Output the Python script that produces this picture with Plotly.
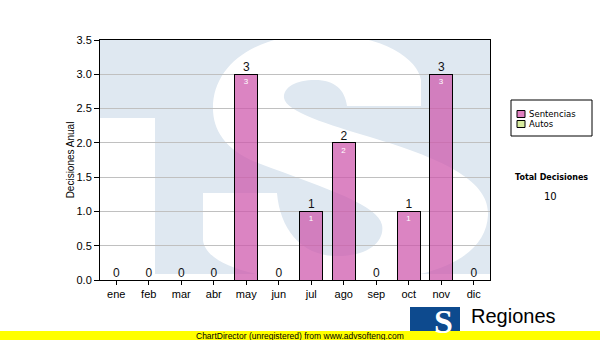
import plotly.graph_objects as go

# ---- data ----
months = ["ene", "feb", "mar", "abr", "may", "jun", "jul", "ago", "sep", "oct", "nov", "dic"]
sentencias = [0, 0, 0, 0, 3, 0, 1, 2, 0, 1, 3, 0]
autos = [0, 0, 0, 0, 0, 0, 0, 0, 0, 0, 0, 0]
series_names = ["Sentencias", "Autos"]
y_title = "Decisiones Anual"
total_label = "Total Decisiones"
totals = [s + a for s, a in zip(sentencias, autos)]
grand_total = sum(totals)

W, H = 600, 340
L, R, T, B = 100, 110, 40, 60
PW, PH = W - L - R, H - T - B

def P(px, py):
    return ((px - L) / PW, (H - B - py) / PH)

def path(cmds):
    out = []
    for c in cmds:
        op, pts = c[0], c[1:]
        s = op
        for (px, py) in pts:
            x, y = P(px, py)
            s += " %.4f,%.4f" % (x, y)
        out.append(s)
    return " ".join(out) + " Z"

PINK = "rgba(205,85,170,0.72)"
WM_BLUE = "#dfe8f1"

fig = go.Figure()
fig.add_trace(go.Bar(
    x=months, y=sentencias, name=series_names[0], showlegend=False,
    marker=dict(color=PINK, line=dict(color="black", width=1)),
    width=0.72,
    text=[str(v) if v > 0 else "" for v in sentencias],
    textposition="inside", insidetextanchor="end",
    textfont=dict(color="white", size=8, family="Liberation Sans"),
    cliponaxis=False,
))
fig.add_trace(go.Bar(
    x=months, y=autos, name=series_names[1], showlegend=False,
    marker=dict(color="#d8eca0", line=dict(color="black", width=0)),
    width=0.72,
))
fig.add_trace(go.Scatter(
    x=months, y=totals, mode="text", text=[str(v) for v in totals],
    textposition="top center", showlegend=False, cliponaxis=False,
    textfont=dict(size=12, color="#111", family="Liberation Sans"),
    hoverinfo="skip",
))

shapes = []
# watermark: blue T + square
shapes.append(dict(type="path", xref="paper", yref="paper", layer="below",
                   path=path([("M", (100, 40)), ("L", (490, 40)), ("L", (490, 274)),
                              ("L", (155, 274)), ("L", (155, 118)), ("L", (100, 118))]),
                   fillcolor=WM_BLUE, line=dict(width=0)))
# white S
s_cmds = [
    ("M", (421, 106)),
    ("L", (347, 106)),
    ("C", (345, 90), (335, 80), (315, 80)),
    ("C", (295, 80), (283, 88), (284, 98)),
    ("C", (286, 112), (330, 125), (370, 137)),
    ("C", (440, 158), (490, 180), (488, 215)),
    ("C", (486, 255), (440, 282), (340, 282)),
    ("C", (260, 282), (205, 265), (203, 240)),
    ("L", (203, 193)),
    ("L", (277, 193)),
    ("C", (280, 228), (300, 255), (335, 256)),
    ("C", (370, 257), (385, 240), (382, 225)),
    ("C", (378, 205), (330, 190), (258, 163)),
    ("C", (225, 150), (213, 130), (213, 108)),
    ("C", (213, 65), (255, 34), (320, 34)),
    ("C", (385, 34), (418, 60), (421, 80)),
]
shapes.append(dict(type="path", xref="paper", yref="paper", layer="below",
                   path=path(s_cmds), fillcolor="white", line=dict(width=0)))
# clean strip above plot (S top overflow)
x0, y0 = P(150, 0); x1, y1 = P(495, 39.5)
shapes.append(dict(type="rect", xref="paper", yref="paper", layer="below",
                   x0=x0, y0=y0, x1=x1, y1=y1, fillcolor="white", line=dict(width=0)))

# legend box (manual)
def rect(px0, py0, px1, py1, fill, lc="black", lw=1, layer="above"):
    a0, b0 = P(px0, py0); a1, b1 = P(px1, py1)
    return dict(type="rect", xref="paper", yref="paper", x0=a0, y0=b0, x1=a1, y1=b1,
                fillcolor=fill, line=dict(color=lc, width=lw), layer=layer)

shapes.append(rect(511, 100, 592, 136, "white"))
shapes.append(rect(517, 110.5, 525, 117.5, "#e080c0"))
shapes.append(rect(517, 120.5, 525, 127.5, "#d8eca0"))

# bottom logo
shapes.append(rect(410, 307, 460, 332, "#0d4a8e", lw=0))
# yellow band
shapes.append(rect(0, 331, 600, 340, "#ffff00", lw=0))

annotations = []
def ann(text, px, py, size, family="Liberation Sans", color="black", xanchor="center", bold=False):
    x, y = P(px, py)
    annotations.append(dict(text=("<b>%s</b>" % text) if bold else text, x=x, y=y,
                            xref="paper", yref="paper", showarrow=False,
                            xanchor=xanchor, yanchor="middle",
                            font=dict(size=size, family=family, color=color)))

ann(series_names[0], 527, 114, 8.5, family="DejaVu Sans", xanchor="left")
ann(series_names[1], 527, 124, 8.5, family="DejaVu Sans", xanchor="left")
ann(total_label, 551, 177, 8, family="DejaVu Sans", bold=True)
ann(str(grand_total), 550, 196, 10, family="DejaVu Sans")
ann("S", 443, 321, 34, family="Liberation Serif", color="white", bold=True)
ann("Regiones", 469, 316, 20, xanchor="left")
ann("ChartDirector (unregistered) from www.advsofteng.com", 300, 335.5, 8.5)

fig.update_layout(
    width=W, height=H,
    margin=dict(l=L, r=R, t=T, b=B, pad=0),
    paper_bgcolor="white", plot_bgcolor="rgba(0,0,0,0)",
    barmode="stack", showlegend=False,
    shapes=shapes, annotations=annotations,
    font=dict(family="Liberation Sans", size=11, color="black"),
    xaxis=dict(type="category", categoryorder="array", categoryarray=months,
               range=[-0.5, 11.5], showgrid=False, ticks="outside", ticklen=4,
               tickcolor="black", showline=True, linecolor="black", linewidth=1,
               mirror=True, tickfont=dict(size=11, color="black"), fixedrange=True),
    yaxis=dict(range=[0, 3.5], dtick=0.5, tickformat=".1f", showgrid=True,
               gridcolor="#c0c0c0", gridwidth=1, zeroline=False, ticks="outside",
               ticklen=5, tickcolor="black", showline=True, linecolor="black",
               linewidth=1, mirror=True, tickfont=dict(size=11, color="black"),
               title=dict(text=y_title, font=dict(size=10, color="black"), standoff=0),
               fixedrange=True),
)

fig.write_html("out.html", config={"displayModeBar": False})
